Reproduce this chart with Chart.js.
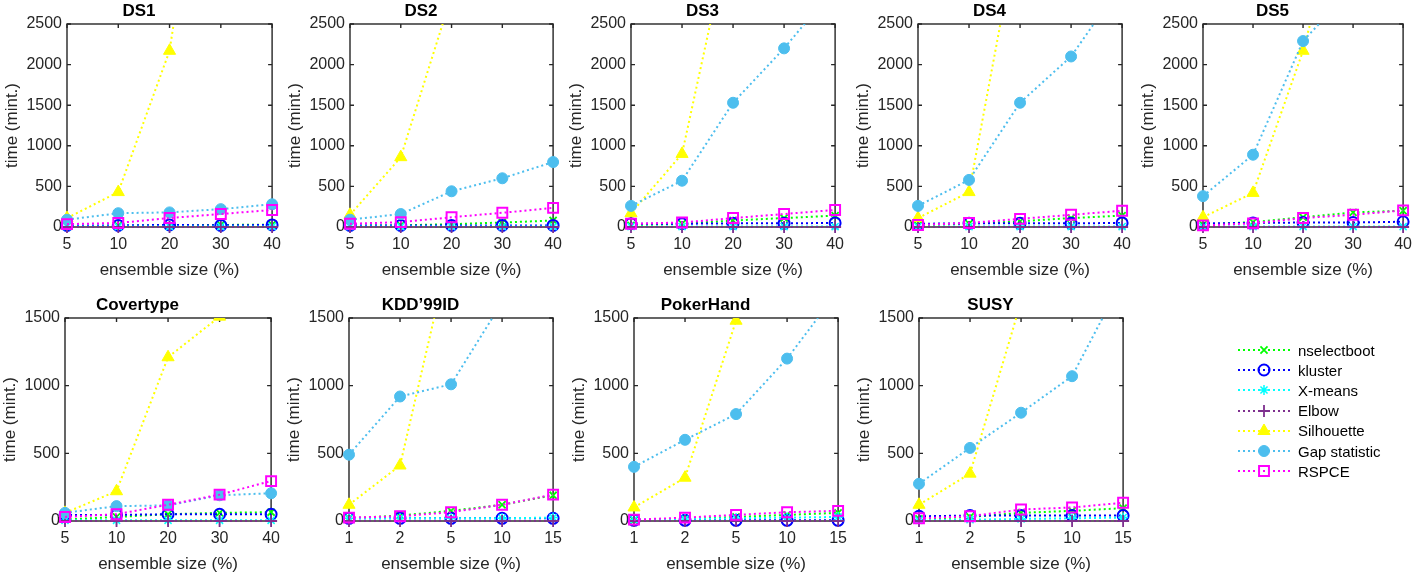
<!DOCTYPE html>
<html><head><meta charset="utf-8">
<script src="https://cdn.jsdelivr.net/npm/chart.js@4.4.1/dist/chart.umd.min.js"></script>
<style>
html,body{margin:0;padding:0;background:#fff;width:1419px;height:574px;overflow:hidden;font-family:"Liberation Sans",Arial,Helvetica,sans-serif;}
.panel{position:absolute;}
.panel canvas{display:block;}
#legend{position:absolute;left:1234px;top:340px;}
.lrow{display:flex;align-items:center;height:20.2px;font-size:15px;color:#000;white-space:nowrap;}
.lrow canvas{display:block;margin-right:4px;}
</style></head><body>
<div id="legend"></div>
<script>
// ---- series (methods) ----
const methods = ['nselectboot','kluster','X-means','Elbow','Silhouette','Gap statistic','RSPCE'];
const colors  = ['#00ff00','#0000ff','#00ffff','#7e2f8e','#ffff00','#4dbeee','#ff00ff'];
const markers = ['crossRot','circle','star','cross','triangle','circle','rect'];
const filled  = [false,false,false,false,true,true,false];

// ---- categories / tick labels ----
const xPct      = ['5','10','20','30','40'];
const xPctSmall = ['1','2','5','10','15'];
const yTicksTop = [0,500,1000,1500,2000,2500];
const yTicksBot = [0,500,1000,1500];
const xTitle = 'ensemble size (%)';
const yTitle = 'time (mint.)';

// ---- values, rows in the order of `methods` (minutes) ----
const DS1 = [
  [10,15,20,25,30],
  [20,20,25,20,25],
  [5,5,5,5,5],
  [0,0,0,0,0],
  [110,430,2170,6300,10000],
  [90,170,180,220,280],
  [35,50,110,160,210]];
const DS2 = [
  [15,20,35,55,80],
  [20,20,20,20,20],
  [5,5,5,5,5],
  [0,0,0,0,0],
  [150,860,2850,6000,9000],
  [90,160,440,600,800],
  [40,60,120,175,235]];
const DS3 = [
  [20,40,80,110,140],
  [40,40,45,45,50],
  [5,5,5,5,5],
  [0,0,0,0,0],
  [170,900,3800,7000,10000],
  [260,570,1530,2200,2950],
  [40,55,110,160,210]];
const DS4 = [
  [20,40,70,110,140],
  [40,45,45,45,50],
  [5,5,5,5,5],
  [0,0,0,0,0],
  [110,430,3800,7000,10000],
  [260,580,1530,2100,3000],
  [25,50,100,150,200]];
const DS5 = [
  [30,60,120,180,200],
  [45,50,55,55,65],
  [5,5,5,5,5],
  [0,0,0,0,0],
  [120,420,2170,4500,7000],
  [380,890,2290,2950,3600],
  [20,45,110,150,205]];
const Covertype = [
  [10,30,50,60,65],
  [45,45,50,50,50],
  [5,5,5,5,5],
  [0,0,0,0,0],
  [60,220,1210,1510,2500],
  [60,110,115,190,205],
  [30,50,120,195,295]];
const KDD99ID = [
  [20,40,75,120,190],
  [20,20,20,20,20],
  [20,20,20,20,25],
  [0,0,0,0,0],
  [120,410,2040,4000,6000],
  [490,920,1010,1615,2200],
  [25,35,65,120,195]];
const PokerHand = [
  [5,15,30,45,60],
  [5,5,5,5,5],
  [10,15,20,25,30],
  [0,0,0,0,0],
  [100,320,1480,3500,5000],
  [400,600,790,1200,1700],
  [10,25,45,65,75]];
const SUSY = [
  [15,30,60,75,95],
  [35,40,40,40,40],
  [5,10,15,20,25],
  [0,0,0,0,0],
  [120,350,1620,3500,5000],
  [275,540,800,1070,1790],
  [20,35,85,100,135]];

// ---- layout (plot-area rectangles in page pixels) ----
const panels = [
  {title:'DS1', labels:xPct, data:DS1, yt:yTicksTop, l:67,  t:24, r:277, b:227},
  {title:'DS2', labels:xPct, data:DS2, yt:yTicksTop, l:350, t:24, r:558, b:227},
  {title:'DS3', labels:xPct, data:DS3, yt:yTicksTop, l:631, t:24, r:840, b:227},
  {title:'DS4', labels:xPct, data:DS4, yt:yTicksTop, l:918, t:24, r:1127, b:227},
  {title:'DS5', labels:xPct, data:DS5, yt:yTicksTop, l:1203,t:24, r:1408, b:227},
  {title:'Covertype', labels:xPct, data:Covertype, yt:yTicksBot, l:65, t:318, r:276, b:521},
  {title:'KDD\u201999ID', labels:xPctSmall, data:KDD99ID, yt:yTicksBot, l:349, t:318, r:558, b:521},
  {title:'PokerHand', labels:xPctSmall, data:PokerHand, yt:yTicksBot, l:634, t:318, r:843, b:521},
  {title:'SUSY', labels:xPctSmall, data:SUSY, yt:yTicksBot, l:919, t:318, r:1128, b:521}
];

const F = "'Liberation Sans', Arial, Helvetica, sans-serif";
const AX = '#262626';
const radii   = [5,5.5,5,6,7,5.5,7];
const pbw     = [1.8,2,1.5,1.8,1,1,2];
Chart.defaults.font.family = F;

const framePlugin = {
  id:'frame',
  beforeDatasetsDraw(chart){
    const {ctx, chartArea:a, scales:{x,y}} = chart;
    ctx.save();
    ctx.strokeStyle = AX; ctx.lineWidth = 1.4;
    ctx.strokeRect(a.left, a.top, a.right-a.left, a.bottom-a.top);
    const L = 4;
    ctx.beginPath();
    x.ticks.forEach((t,i)=>{ const px = x.getPixelForTick(i);
      ctx.moveTo(px,a.bottom); ctx.lineTo(px,a.bottom-L);
      ctx.moveTo(px,a.top); ctx.lineTo(px,a.top+L); });
    y.ticks.forEach((t,i)=>{ const py = y.getPixelForTick(i);
      ctx.moveTo(a.left,py); ctx.lineTo(a.left+L,py);
      ctx.moveTo(a.right,py); ctx.lineTo(a.right-L,py); });
    ctx.stroke();
    ctx.restore();
  }
};

const YW=66, TOPH=24, XH=56, RP=12;
panels.forEach(p=>{
  const w=(p.r-p.l)+YW+RP, h=(p.b-p.t)+TOPH+XH;
  const div=document.createElement('div'); div.className='panel';
  div.style.left=(p.l-YW)+'px'; div.style.top=(p.t-TOPH)+'px';
  div.style.width=w+'px'; div.style.height=h+'px';
  const c=document.createElement('canvas'); c.width=w; c.height=h;
  div.appendChild(c); document.body.appendChild(div);
  const ymax = p.yt[p.yt.length-1];
  new Chart(c,{
    type:'line',
    data:{labels:p.labels, datasets:methods.map((m,i)=>({
      label:m, data:p.data[i],
      borderColor:colors[i], backgroundColor:colors[i],
      borderWidth:2, borderDash:[2,3], fill:false, tension:0,
      pointStyle:markers[i], pointRadius:radii[i], pointHoverRadius:radii[i],
      pointBorderColor:colors[i], pointBorderWidth:pbw[i],
      pointBackgroundColor: filled[i]?colors[i]:'rgba(0,0,0,0)',
      order: methods.length-i,
      clip:{left:12,right:12,top:0,bottom:12}
    }))},
    options:{
      responsive:false, animation:false, devicePixelRatio:1,
      layout:{padding:{left:0,right:RP,top:0,bottom:0}},
      plugins:{
        legend:{display:false}, tooltip:{enabled:false},
        title:{display:true, text:p.title, color:'#000',
          font:{size:17, weight:'bold', family:F, lineHeight:'20px'},
          padding:{top:1,bottom:3}}
      },
      scales:{
        x:{type:'category', offset:false,
          grid:{display:false, drawTicks:false}, border:{display:false},
          ticks:{font:{size:16,family:F}, color:AX, padding:8, maxRotation:0, autoSkip:false},
          title:{display:true, text:xTitle, color:AX, font:{size:17,family:F,lineHeight:'20px'}, padding:{top:0,bottom:3}},
          afterFit:s=>{s.height=XH;}},
        y:{min:0, max:ymax,
          grid:{display:false, drawTicks:false}, border:{display:false},
          afterBuildTicks:s=>{s.ticks=p.yt.map(v=>({value:v}));},
          ticks:{font:{size:16,family:F}, color:AX, padding:5, callback:v=>String(v)},
          title:{display:true, text:yTitle, color:AX, font:{size:17,family:F,lineHeight:'20px'}, padding:{top:1,bottom:0}},
          afterFit:s=>{s.width=YW;}}
      }
    },
    plugins:[framePlugin]
  });
});

// ---- legend ----
const lg = document.getElementById('legend');
methods.forEach((m,i)=>{
  const row=document.createElement('div'); row.className='lrow';
  const c=document.createElement('canvas'); c.width=60; c.height=20;
  const ctx=c.getContext('2d');
  ctx.strokeStyle=colors[i]; ctx.lineWidth=2; ctx.setLineDash([2,3]);
  ctx.beginPath(); ctx.moveTo(4,10); ctx.lineTo(56,10); ctx.stroke();
  ctx.setLineDash([]);
  ctx.fillStyle = filled[i]?colors[i]:'rgba(0,0,0,0)';
  ctx.lineWidth = pbw[i];
  Chart.helpers.drawPoint(ctx,{pointStyle:markers[i], radius:radii[i], rotation:0, borderWidth:pbw[i]},30,10);
  const sp=document.createElement('span'); sp.textContent=m;
  row.appendChild(c); row.appendChild(sp); lg.appendChild(row);
});
</script>
</body></html>
